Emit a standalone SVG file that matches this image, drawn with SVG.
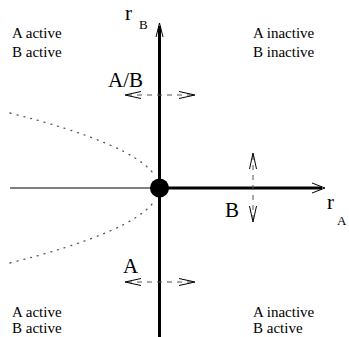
<svg xmlns="http://www.w3.org/2000/svg" width="349" height="337" viewBox="0 0 349 337">
<style>
.lbl{font-family:"Liberation Serif","Times New Roman",serif;font-size:15px;fill:#000}
.big{font-family:"Liberation Serif","Times New Roman",serif;font-size:21px;fill:#000}
.sub{font-family:"Liberation Serif","Times New Roman",serif;font-size:13px;fill:#000}
.axis{stroke:#000;stroke-width:3;fill:none}
.thin{stroke:#000;stroke-width:1.2;fill:none}
.head{stroke:#000;stroke-width:1;fill:none;stroke-linejoin:miter}
.dash{stroke:#555;stroke-width:1;fill:none;stroke-dasharray:5 5}
.dot{stroke:#555;stroke-width:1.3;fill:none;stroke-dasharray:1 6;stroke-linecap:round}
</style>
<rect width="349" height="337" fill="#fff"/>
<g id="connectors">
<path class="dot" d="M10,113 Q133,144 154.5,175"/>
<path class="dot" d="M10,263 Q133,232 154.5,201"/>
<line class="thin" x1="10" y1="188" x2="159" y2="188"/>
<line class="axis" x1="159.5" y1="26" x2="159.5" y2="337"/>
<path class="head" d="M156,37 L159.5,23 L163,37"/>
<line class="axis" x1="159" y1="188" x2="322" y2="188"/>
<path class="head" d="M312,183 L325,188 L312,193"/>
<g id="arrow-AB">
<line class="dash" x1="127" y1="95" x2="193" y2="95"/>
<path class="head" d="M141,91.5 L125,95 L141,98.5"/>
<path class="head" d="M179,91.5 L195,95 L179,98.5"/>
</g>
<g id="arrow-A">
<line class="dash" x1="127" y1="282" x2="193" y2="282"/>
<path class="head" d="M141,278.5 L125,282 L141,285.5"/>
<path class="head" d="M179,278.5 L195,282 L179,285.5"/>
</g>
<g id="arrow-B">
<line class="dash" x1="253" y1="155" x2="253" y2="220"/>
<path class="head" d="M249.5,169 L253,153 L256.5,169"/>
<path class="head" d="M249.5,206 L253,222 L256.5,206"/>
</g>
</g>
<g id="origin"><circle cx="159.5" cy="188" r="9.5" fill="#000"/></g>
<g id="rB"><text class="big" x="125" y="20">r</text><text class="sub" x="139" y="29">B</text></g>
<g id="rA"><text class="big" x="327" y="209">r</text><text class="sub" x="337" y="225">A</text></g>
<g id="lblAB"><text class="big" x="108" y="87">A/B</text></g>
<g id="lblB"><text class="big" x="225" y="217">B</text></g>
<g id="lblA"><text class="big" x="123" y="273">A</text></g>
<g id="q1"><text class="lbl" x="12" y="38">A active</text><text class="lbl" x="12" y="57">B active</text></g>
<g id="q2"><text class="lbl" x="253" y="38">A inactive</text><text class="lbl" x="253" y="57">B inactive</text></g>
<g id="q3"><text class="lbl" x="12" y="317">A active</text><text class="lbl" x="12" y="333">B active</text></g>
<g id="q4"><text class="lbl" x="253" y="317">A inactive</text><text class="lbl" x="253" y="333">B active</text></g>
</svg>
